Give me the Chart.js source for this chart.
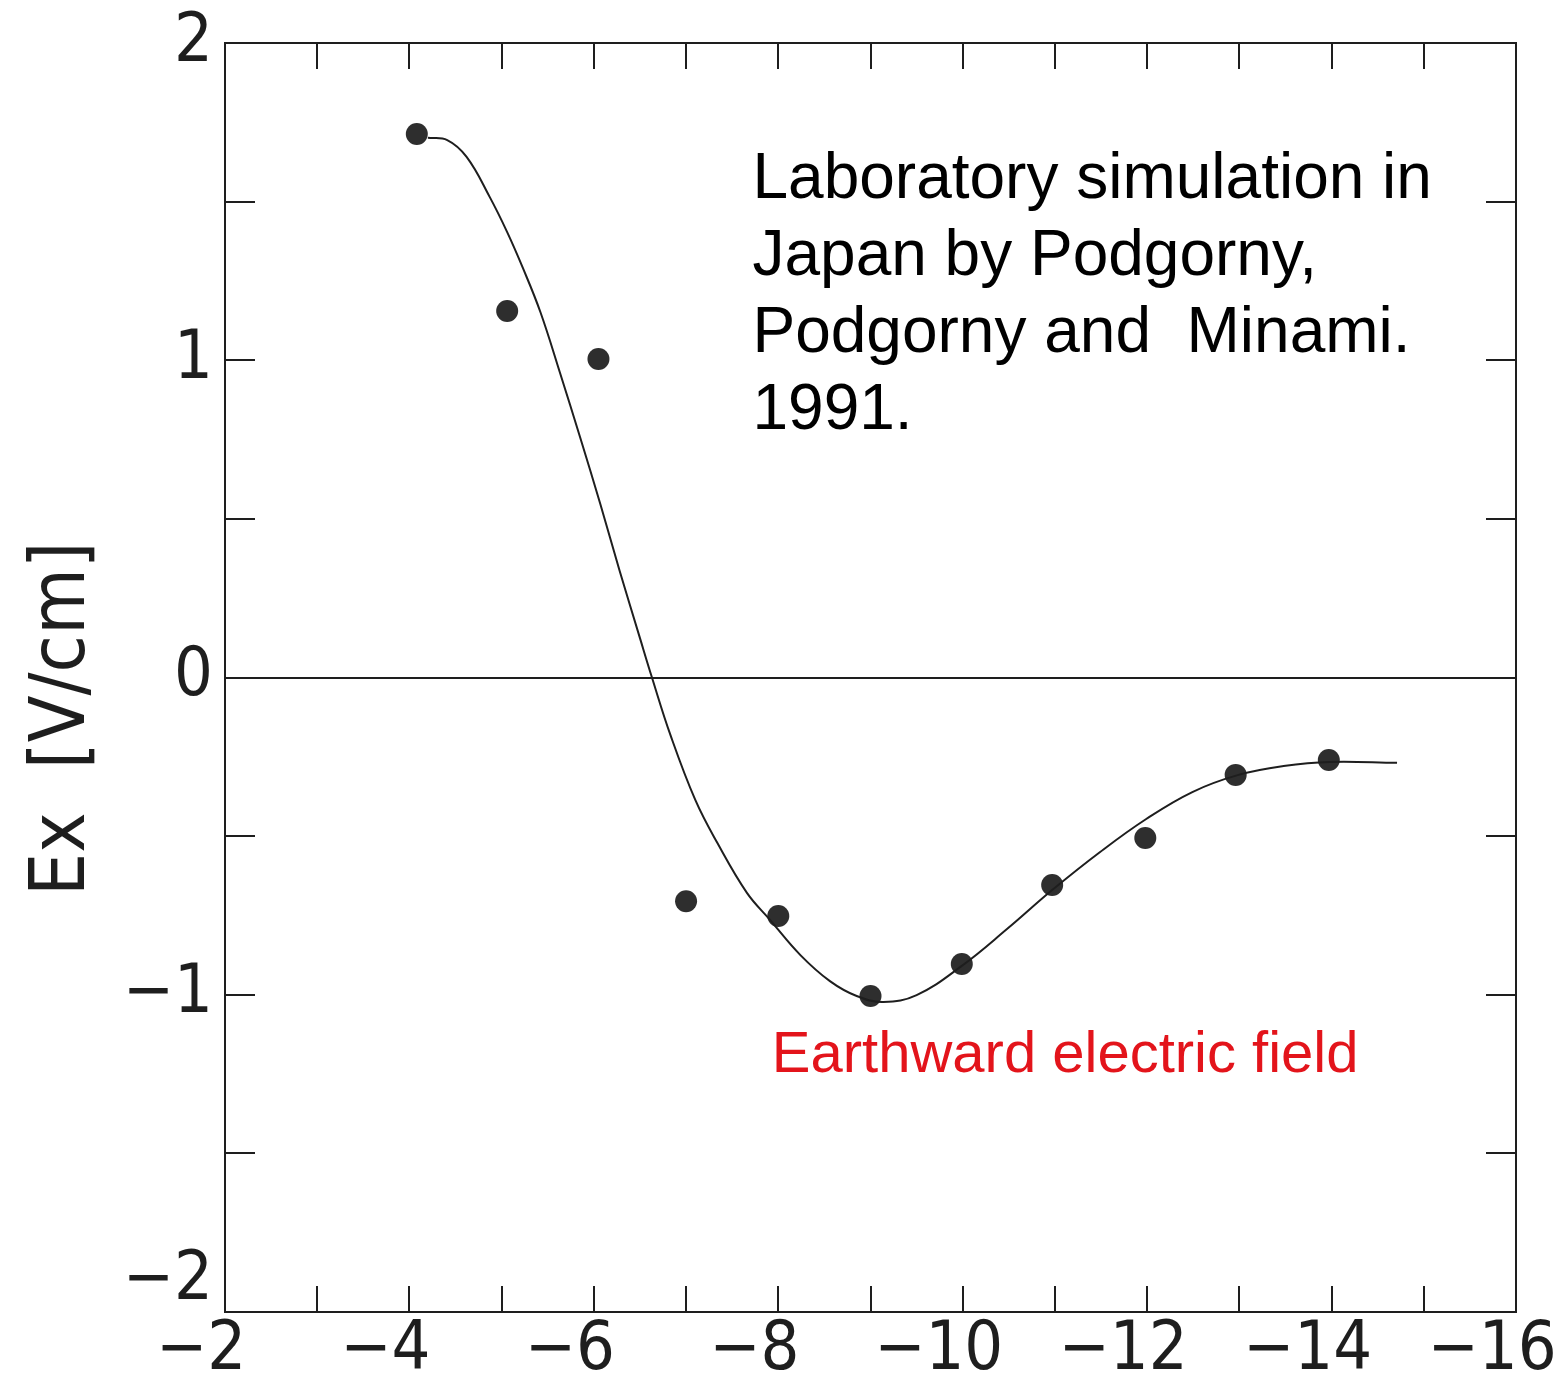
<!DOCTYPE html>
<html><head><meta charset="utf-8">
<script src="https://cdn.jsdelivr.net/npm/chart.js@4.4.0/dist/chart.umd.min.js"></script>
<style>html,body{margin:0;padding:0;background:#fff;}#wrap{width:1557px;height:1387px;position:relative;}</style>
</head><body><div id="wrap"><canvas id="c" width="1557" height="1387"></canvas></div>
<script>
// ---- data ----
const pointX = [-4.08, -5.06, -6.05, -7.0, -8.0, -9.0, -9.99, -10.97, -11.98, -12.96, -13.97];
const pointY = [1.713, 1.155, 1.004, -0.705, -0.752, -1.004, -0.903, -0.654, -0.506, -0.307, -0.260];
const curveX = [-4.20, -4.41, -4.62, -4.87, -5.06, -5.23, -5.42, -5.63, -5.85, -6.07, -6.28, -6.50, -6.63, -6.83, -7.10, -7.34, -7.66, -7.91, -8.24, -8.56, -8.85, -9.14, -9.50, -9.99, -10.48, -10.97, -11.49, -11.99, -12.49, -12.99, -13.48, -13.98, -14.71];
const curveY = [1.701, 1.694, 1.641, 1.515, 1.404, 1.291, 1.152, 0.963, 0.758, 0.547, 0.336, 0.124, 0.0, -0.181, -0.386, -0.522, -0.679, -0.764, -0.875, -0.957, -1.004, -1.023, -1.001, -0.909, -0.793, -0.670, -0.550, -0.446, -0.361, -0.307, -0.279, -0.266, -0.269];
const xLabelValues = [-2, -4, -6, -8, -10, -12, -14, -16];
const yLabelValues = [-2, -1, 0, 1, 2];
const xTickMarks = [-3, -4, -5, -6, -7, -8, -9, -10, -11, -12, -13, -14, -15];
const yTickMarks = [-1.5, -1, -0.5, 0.5, 1, 1.5];
const yTitle = 'Ex  [V/cm]';
const noteLines = ['Laboratory simulation in', 'Japan by Podgorny,', 'Podgorny and  Minami.', '1991.'];
const noteAnchor = [-7.72, 1.51];
const redNote = 'Earthward electric field';
const redAnchor = [-7.93, -1.245];

const NARROW = "'DejaVu Sans Condensed', 'Liberation Sans Narrow', sans-serif";
const SANS = "'Liberation Sans', Arial, sans-serif";
const INK = '#1e1e1e';

const fmt = v => v === 0 ? '0' : (v < 0 ? '\u2212' + Math.abs(v) : String(v));

const decor = {
  id: 'decor',
  beforeDatasetsDraw(chart) {
    const {ctx, chartArea: a, scales: {x, y}} = chart;
    ctx.save();
    ctx.strokeStyle = INK;
    ctx.lineWidth = 2;
    ctx.beginPath();
    xTickMarks.forEach(v => {
      const px = Math.round(x.getPixelForValue(v));
      ctx.moveTo(px, a.bottom); ctx.lineTo(px, a.bottom - 26);
      ctx.moveTo(px, a.top); ctx.lineTo(px, a.top + 26);
    });
    yTickMarks.forEach(v => {
      const py = Math.round(y.getPixelForValue(v));
      ctx.moveTo(a.left, py); ctx.lineTo(a.left + 30, py);
      ctx.moveTo(a.right, py); ctx.lineTo(a.right - 30, py);
    });
    ctx.stroke();
    ctx.strokeRect(a.left, a.top, a.right - a.left, a.bottom - a.top);
    ctx.restore();
  },
  afterDraw(chart) {
    const {ctx, scales: {x, y}} = chart;
    ctx.save();
    ctx.fillStyle = '#000';
    ctx.font = '64px ' + SANS;
    ctx.textBaseline = 'alphabetic';
    ctx.textAlign = 'left';
    const nx = x.getPixelForValue(noteAnchor[0]);
    const ny = y.getPixelForValue(noteAnchor[1]);
    noteLines.forEach((t, i) => ctx.fillText(t, nx, ny + i * 77));
    ctx.fillStyle = '#e3141b';
    ctx.font = '58px ' + SANS;
    ctx.fillText(redNote, x.getPixelForValue(redAnchor[0]), y.getPixelForValue(redAnchor[1]));
    ctx.fillStyle = INK;
    ctx.font = '76px ' + NARROW;
    ctx.translate(84, y.getPixelForValue(-0.13));
    ctx.rotate(-Math.PI / 2);
    ctx.textAlign = 'center';
    ctx.fillText(yTitle, 0, 0);
    ctx.restore();
  }
};

new Chart(document.getElementById('c'), {
  type: 'scatter',
  data: {
    datasets: [
      {
        label: 'fit',
        data: curveX.map((v, i) => ({x: v, y: curveY[i]})),
        showLine: true,
        borderColor: INK,
        borderWidth: 2,
        pointRadius: 0,
        tension: 0.4,
        fill: false
      },
      {
        label: 'measured',
        data: pointX.map((v, i) => ({x: v, y: pointY[i]})),
        pointRadius: 11,
        pointBackgroundColor: '#2e2e2e',
        pointBorderWidth: 0,
        showLine: false
      }
    ]
  },
  options: {
    responsive: false,
    animation: false,
    events: [],
    layout: {padding: {top: 43, right: 41, bottom: 0, left: 0}, autoPadding: false},
    plugins: {legend: {display: false}, tooltip: {enabled: false}},
    scales: {
      x: {
        type: 'linear',
        reverse: true,
        min: -16, max: -2,
        afterBuildTicks: s => { s.ticks = xLabelValues.map(v => ({value: v})); },
        afterFit: s => { s.height = 75; s.paddingLeft = 0; s.paddingRight = 0; },
        grid: {display: false, drawTicks: false},
        border: {display: true, color: INK, width: 2},
        ticks: {
          callback: v => fmt(v),
          color: INK,
          font: {family: NARROW, size: 68, lineHeight: 1},
          padding: 5,
          labelOffset: -24,
          maxRotation: 0,
          autoSkip: false
        }
      },
      y: {
        type: 'linear',
        min: -2, max: 2,
        afterBuildTicks: s => { s.ticks = yLabelValues.map(v => ({value: v})); },
        afterFit: s => { s.width = 225; s.paddingTop = 0; s.paddingBottom = 0; },
        grid: {
          display: true,
          drawTicks: false,
          drawOnChartArea: true,
          color: c => (c.tick && c.tick.value === 0) ? INK : 'rgba(0,0,0,0)',
          lineWidth: 2
        },
        border: {display: true, color: INK, width: 2},
        ticks: {
          callback: v => v === -2 ? [fmt(v), ''] : fmt(v),
          color: INK,
          font: {family: NARROW, size: 68, lineHeight: 0.9},
          padding: 12,
          autoSkip: false
        }
      }
    }
  },
  plugins: [decor]
});
</script></body></html>
